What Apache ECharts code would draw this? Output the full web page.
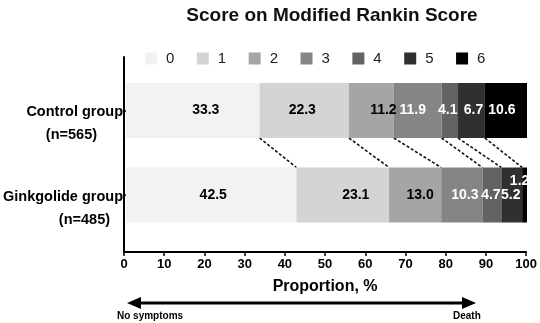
<!DOCTYPE html>
<html>
<head>
<meta charset="utf-8">
<script src="https://cdn.jsdelivr.net/npm/echarts@6/dist/echarts.min.js"></script>
<style>html,body{margin:0;padding:0;background:#fff}#c{width:540px;height:323px}</style>
</head>
<body>
<div id="c"></div>
<script>
// ---- data ----
const categories = ['Control group', 'Ginkgolide group'];
const nLabels = ['(n=565)', '(n=485)'];
const scores = ['0', '1', '2', '3', '4', '5', '6'];
const control = [33.3, 22.3, 11.2, 11.9, 4.1, 6.7, 10.6];
const ginkgolide = [42.5, 23.1, 13.0, 10.3, 4.7, 5.2, 1.2];
const xMin = 0, xMax = 100, xStep = 10;

// ---- styles ----
const FONT = '"Liberation Sans", Arial, Helvetica, sans-serif';
const colors = ['#f2f2f2', '#d4d4d4', '#a5a5a5', '#858585', '#636363', '#303030', '#000000'];
const labelColors = ['#000', '#000', '#000', '#fff', '#fff', '#fff', '#fff'];
const BAR_W = 55;
// per-item label tweaks [control, ginkgolide]
const labelOffsets = [
  [[13, 0], [2, 0]],
  [[-2, 0], [13, 0]],
  [[12, 0], [5, 0]],
  [[-5, 0], [3, 0]],
  [[-2, 0], [-1, 0]],
  [[2, 0], [-1, 0]],
  [[-4, 0], [-5, -14]]
];

function cumulative(arr) {
  const out = []; let s = 0;
  for (let i = 0; i < arr.length - 1; i++) { s += arr[i]; out.push(+s.toFixed(1)); }
  return out;
}
const cc = cumulative(control), cg = cumulative(ginkgolide);
const connectors = cc.map((v, i) => [v, cg[i]]);

const chart = echarts.init(document.getElementById('c'), null, {renderer: 'canvas'});

const barSeries = scores.map((s, k) => ({
  name: s,
  type: 'bar',
  stack: 'total',
  xAxisIndex: 0,
  yAxisIndex: 0,
  barWidth: BAR_W,
  itemStyle: {color: colors[k]},
  label: {
    show: true,
    position: 'inside',
    fontFamily: FONT,
    fontSize: 14,
    fontWeight: 'bold',
    color: labelColors[k],
    formatter: p => Number(p.value).toFixed(1)
  },
  data: [control[k], ginkgolide[k]].map((v, g) => ({
    value: v,
    label: {offset: labelOffsets[k][g]}
  }))
}));

chart.setOption({
  animation: false,
  textStyle: {fontFamily: FONT},
  title: {
    text: 'Score on Modified Rankin Score',
    left: 327,
    textAlign: 'center',
    top: 1,
    textStyle: {fontFamily: FONT, fontSize: 19, fontWeight: 'bold', color: '#111'}
  },
  legend: {
    data: scores,
    left: 140,
    top: 46,
    itemWidth: 12,
    itemHeight: 12,
    itemGap: 22.5,
    icon: 'rect',
    textStyle: {fontFamily: FONT, fontSize: 15, color: '#222', padding: [0, 0, 0, 4]}
  },
  grid: [
    {left: 124, right: 13, top: 68.25, height: 169},
    {left: 124, right: 13, top: 57, bottom: 71}
  ],
  xAxis: [
    {gridIndex: 0, type: 'value', min: xMin, max: xMax, interval: xStep, show: false},
    {
      gridIndex: 1, type: 'value', min: xMin, max: xMax, interval: xStep,
      axisLine: {show: true, lineStyle: {color: '#000', width: 2}},
      axisTick: {show: true, length: 4, lineStyle: {color: '#000', width: 1.5}},
      splitLine: {show: false},
      axisLabel: {fontFamily: FONT, fontSize: 13, fontWeight: 'bold', color: '#000', margin: 6},
      name: 'Proportion, %',
      nameLocation: 'middle',
      nameGap: 27,
      nameTextStyle: {fontFamily: FONT, fontSize: 16, fontWeight: 'bold', color: '#000'}
    }
  ],
  yAxis: [
    {
      gridIndex: 0, type: 'category', data: categories, inverse: true,
      axisLine: {show: false},
      axisTick: {show: true, alignWithLabel: true, length: 3, lineStyle: {color: '#000', width: 1.5}},
      axisLabel: {
        margin: 3,
        align: 'right',
        padding: [27, 0, 0, 0],
        formatter: (v, i) => '{a|' + v + '}\n{' + (i === 0 ? 'b' : 'c') + '|' + nLabels[i] + '}',
        rich: {
          a: {fontFamily: FONT, fontSize: 14.5, fontWeight: 'bold', color: '#000', lineHeight: 22},
          b: {fontFamily: FONT, fontSize: 14.5, fontWeight: 'bold', color: '#000', lineHeight: 24, padding: [0, 26, 0, 0]},
          c: {fontFamily: FONT, fontSize: 14.5, fontWeight: 'bold', color: '#000', lineHeight: 24, padding: [0, 13, 0, 0]}
        }
      }
    },
    {
      gridIndex: 1, type: 'value', min: 0, max: 1,
      axisLine: {show: true, lineStyle: {color: '#000', width: 2}},
      axisTick: {show: false}, axisLabel: {show: false}, splitLine: {show: false}
    }
  ],
  series: barSeries.concat([{
    type: 'custom',
    name: 'connectors',
    xAxisIndex: 0,
    yAxisIndex: 0,
    silent: true,
    encode: {x: [0, 1]},
    data: connectors,
    renderItem: (params, api) => {
      const a = api.coord([api.value(0), 0]);
      const b = api.coord([api.value(1), 1]);
      return {
        type: 'line',
        shape: {x1: a[0], y1: a[1] + BAR_W / 2, x2: b[0], y2: b[1] - BAR_W / 2},
        style: {stroke: '#111', lineWidth: 1.6, lineDash: [3, 2]}
      };
    }
  }]),
  graphic: [
    {type: 'line', shape: {x1: 136, y1: 303, x2: 467, y2: 303}, style: {stroke: '#000', lineWidth: 3}},
    {type: 'polygon', shape: {points: [[127, 303], [141, 297], [141, 309]]}, style: {fill: '#000'}},
    {type: 'polygon', shape: {points: [[476, 303], [462, 297], [462, 309]]}, style: {fill: '#000'}},
    {type: 'text', left: 117, top: 311, style: {text: 'No symptoms', fontFamily: FONT, fontSize: 10, fontWeight: 'bold', fill: '#000'}},
    {type: 'text', left: 453, top: 311, style: {text: 'Death', fontFamily: FONT, fontSize: 10, fontWeight: 'bold', fill: '#000'}}
  ]
});
</script>
</body>
</html>
